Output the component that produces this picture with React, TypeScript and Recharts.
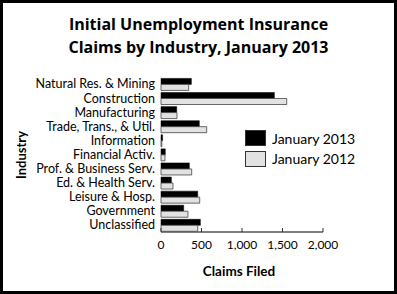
import React from 'react';
import { BarChart, Bar, XAxis, YAxis } from 'recharts';

const categories = [
  'Natural Res. & Mining',
  'Construction',
  'Manufacturing',
  'Trade, Trans., & Util.',
  'Information',
  'Financial Activ.',
  'Prof. & Business Serv.',
  'Ed. & Health Serv.',
  'Leisure & Hosp.',
  'Government',
  'Unclassified',
];
const jan2013 = [375, 1400, 194, 473, 20, 53, 350, 128, 453, 280, 486];
const jan2012 = [342, 1552, 197, 564, 10, 49, 379, 148, 478, 333, 453];
const xTicks = [0, 500, 1000, 1500, 2000];
const seriesNames = ['January 2013', 'January 2012'];
const seriesColors = ['#000000', '#e2e2e2'];

const data = categories.map((name, i) => ({ name, y2013: jan2013[i], y2012: jan2012[i] }));

const FONT = 'Lato, "Open Sans", sans-serif';
const TITLE_FONT = '"Open Sans", Lato, sans-serif';

const fmt = (v: number) => v.toLocaleString('en-US');

export default function App() {
  return (
    <div style={{ position: 'absolute', left: 0, top: 0, width: 397, height: 294, background: '#fff' }}>
      <BarChart
        width={397}
        height={294}
        data={data}
        layout="vertical"
        margin={{ top: 77, right: 74, bottom: 32, left: 0 }}
        barCategoryGap="10%"
        barGap={0}
      >
        <XAxis
          type="number"
          domain={[0, 2000]}
          ticks={xTicks}
          tickFormatter={fmt}
          height={30}
          tickSize={-4}
          tickMargin={12}
          axisLine={{ stroke: '#555', strokeWidth: 1.5 }}
          tickLine={{ stroke: '#333' }}
          tick={{ fill: '#000', fontSize: 12, fontFamily: FONT }}
          interval={0}
        />
        <YAxis
          type="category"
          dataKey="name"
          width={161}
          axisLine={false}
          tickLine={false}
          tickSize={0}
          tickMargin={6}
          interval={0}
          tick={{ fill: '#000', fontSize: 12.5, fontFamily: FONT }}
        />
        <Bar dataKey="y2013" name={seriesNames[0]} fill={seriesColors[0]} stroke="#000" strokeWidth={0.5} isAnimationActive={false} />
        <Bar dataKey="y2012" name={seriesNames[1]} fill={seriesColors[1]} stroke="#444" strokeWidth={0.8} isAnimationActive={false} />
      </BarChart>
      <div style={{ position: 'absolute', left: 245, top: 128, fontFamily: FONT, fontSize: 14, color: '#000' }}>
        {seriesNames.map((label, i) => (
          <div key={i} style={{ display: 'flex', alignItems: 'center', height: 20.5 }}>
            <div style={{ width: 19, height: 14, background: seriesColors[i], border: '1px solid #333', marginRight: 6 }} />
            <span style={{ whiteSpace: 'nowrap' }}>{label}</span>
          </div>
        ))}
      </div>
      <div style={{ position: 'absolute', left: 0, top: 13, width: 397, textAlign: 'center', fontFamily: TITLE_FONT, fontWeight: 'bold', fontSize: 16, lineHeight: '22.5px', color: '#000' }}>
        Initial Unemployment Insurance
        <br />
        Claims by Industry, January 2013
      </div>
      <div style={{ position: 'absolute', left: 179, top: 263, width: 120, textAlign: 'center', fontFamily: FONT, fontWeight: 'bold', fontSize: 13.5, color: '#000' }}>
        Claims Filed
      </div>
      <div style={{ position: 'absolute', left: 21, top: 155, width: 0, height: 0 }}>
        <div style={{ position: 'absolute', left: -40, top: -9, width: 80, textAlign: 'center', transform: 'rotate(-90deg)', fontFamily: FONT, fontWeight: 'bold', fontSize: 13, color: '#000', lineHeight: '18px' }}>
          Industry
        </div>
      </div>
      <div style={{ position: 'absolute', left: 0, top: 0, width: 397, height: 294, boxSizing: 'border-box', border: '3px solid #000', pointerEvents: 'none' }} />
    </div>
  );
}
